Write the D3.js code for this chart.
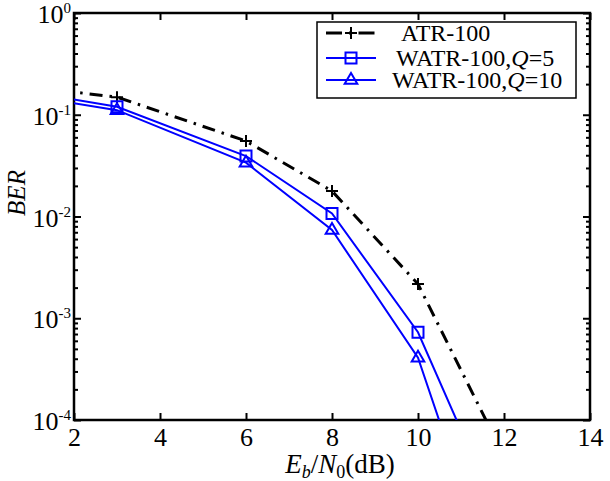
<!DOCTYPE html>
<html>
<head>
<meta charset="utf-8">
<script src="https://d3js.org/d3.v7.min.js"></script>
<style>
  body { margin: 0; background: #fff; }
  svg, svg text { font-family: "Liberation Serif", "Times New Roman", Times, serif; }
</style>
</head>
<body>
<script>
"use strict";

// Eb/N0 (dB) of each simulated point; the first one sits left of the visible range
const ebn0 = [1, 3, 6, 8, 10, 12];
const atr100 = [0.187, 0.149, 0.0552, 0.0178, 0.00217, 4.4e-5];
const watrQ5 = [0.167, 0.120, 0.0393, 0.0107, 7.28e-4, 8.7e-6];
const watrQ10 = [0.151, 0.111, 0.0338, 0.00737, 4.09e-4, 1.3e-6];

const xTicks = [2, 4, 6, 8, 10, 12, 14];
const yExponents = [0, -1, -2, -3, -4];

const seriesNames = ["ATR-100", "WATR-100,Q=5", "WATR-100,Q=10"];

(function() {
    const size = { width: 610, height: 481 };
    const plot = { left: 74, right: 590, top: 13, bottom: 420 };
    const serif = "'Liberation Serif', 'Times New Roman', Times, serif";

    const svg = d3.select("body").append("svg")
        .attr("width", size.width)
        .attr("height", size.height)
        .style("font-family", serif);

    const x = d3.scaleLinear()
        .domain([2, 14])
        .range([plot.left, plot.right]);

    const y = d3.scaleLog()
        .domain([1e-4, 1])
        .range([plot.bottom, plot.top]);

    const series = [
        { name: seriesNames[0], values: atr100, color: "#000", width: 3, dash: "13,7,2.5,7", marker: "plus" },
        { name: seriesNames[1], values: watrQ5, color: "#0000ff", width: 2, dash: null, marker: "square" },
        { name: seriesNames[2], values: watrQ10, color: "#0000ff", width: 2, dash: null, marker: "triangle" }
    ];

    svg.append("clipPath").attr("id", "clip")
        .append("rect")
        .attr("x", plot.left).attr("y", plot.top)
        .attr("width", plot.right - plot.left)
        .attr("height", plot.bottom - plot.top);

    drawAxes();
    drawSeries();
    drawLabels();
    drawLegend();

    function markerPath(type, cx, cy) {
        if (type === "plus") {
            const r = 6;
            return `M${cx - r},${cy}H${cx + r}M${cx},${cy - r}V${cy + r}`;
        }
        if (type === "square") {
            const r = 5.5;
            return `M${cx - r},${cy - r}H${cx + r}V${cy + r}H${cx - r}Z`;
        }
        const r = 7;
        return `M${cx},${cy - r}L${cx + r * 0.9},${cy + r * 0.55}H${cx - r * 0.9}Z`;
    }

    function drawAxes() {
        const frame = svg.append("g");

        // bottom and top axes, ticks pointing into the plot
        const xAxis = frame.append("g")
            .attr("transform", `translate(0,${plot.bottom})`)
            .call(d3.axisBottom(x).tickValues(xTicks).tickSize(-7).tickPadding(8).tickFormat(d3.format("d")));
        const xTop = frame.append("g")
            .attr("transform", `translate(0,${plot.top})`)
            .call(d3.axisTop(x).tickValues(xTicks).tickSize(-7).tickFormat(""));

        // log axes with minor ticks on left and right
        const allTicks = y.ticks();
        const isMajor = d => Math.abs(Math.log10(d) - Math.round(Math.log10(d))) < 1e-9;

        const yLeft = frame.append("g")
            .attr("transform", `translate(${plot.left},0)`)
            .call(d3.axisLeft(y).tickValues(allTicks).tickSize(-7).tickFormat(""));
        const yRight = frame.append("g")
            .attr("transform", `translate(${plot.right},0)`)
            .call(d3.axisRight(y).tickValues(allTicks).tickSize(-7).tickFormat(""));

        yLeft.selectAll(".tick line").attr("x2", d => isMajor(d) ? 7 : 4);
        yRight.selectAll(".tick line").attr("x2", d => isMajor(d) ? -7 : -4);

        [xAxis, xTop, yLeft, yRight].forEach(g => {
            g.attr("font-family", null).attr("font-size", null);
            g.select(".domain").remove();
            g.selectAll(".tick line").attr("stroke", "#000").attr("stroke-width", 2);
        });

        xAxis.selectAll(".tick text")
            .attr("fill", "#000")
            .style("font-size", "26px")
            .style("font-family", serif);

        frame.append("rect")
            .attr("x", plot.left).attr("y", plot.top)
            .attr("width", plot.right - plot.left)
            .attr("height", plot.bottom - plot.top)
            .attr("fill", "none")
            .attr("stroke", "#000")
            .attr("stroke-width", 2.5);

        // 10^k labels
        const labels = frame.selectAll(".ylab")
            .data(yExponents)
            .enter()
            .append("text")
            .attr("class", "ylab")
            .attr("x", plot.left - 3)
            .attr("y", d => y(Math.pow(10, d)) + 10)
            .attr("text-anchor", "end")
            .style("font-size", "26px");
        labels.append("tspan").text("10");
        labels.append("tspan")
            .attr("dy", -10)
            .style("font-size", "15px")
            .text(d => d === 0 ? "0" : "-" + Math.abs(d));
    }

    function drawSeries() {
        const g = svg.append("g").attr("clip-path", "url(#clip)");

        const line = d3.line()
            .x((d, i) => x(ebn0[i]))
            .y(d => y(d));

        series.forEach(s => {
            g.append("path")
                .datum(s.values)
                .attr("d", line)
                .attr("fill", "none")
                .attr("stroke", s.color)
                .attr("stroke-width", s.width)
                .attr("stroke-dasharray", s.dash);

            g.selectAll(null)
                .data(s.values)
                .enter()
                .append("path")
                .attr("d", (d, i) => markerPath(s.marker, x(ebn0[i]), y(d)))
                .attr("fill", "none")
                .attr("stroke", s.color)
                .attr("stroke-width", 2);
        });
    }

    function drawLabels() {
        const xl = svg.append("text")
            .attr("x", 340)
            .attr("y", 473)
            .attr("text-anchor", "middle")
            .style("font-size", "27px");
        xl.append("tspan").style("font-style", "italic").text("E");
        xl.append("tspan").style("font-style", "italic").style("font-size", "18px").attr("dy", 5).text("b");
        xl.append("tspan").attr("dy", -5).text("/");
        xl.append("tspan").style("font-style", "italic").text("N");
        xl.append("tspan").style("font-size", "18px").attr("dy", 5).text("0");
        xl.append("tspan").attr("dy", -5).text("(dB)");

        svg.append("text")
            .attr("transform", "translate(25,193)rotate(-90)")
            .attr("text-anchor", "middle")
            .style("font-size", "25px")
            .style("font-style", "italic")
            .text("BER");
    }

    function drawLegend() {
        const box = { x: 317, y: 22, w: 259, h: 76 };
        const rowY = [33, 58, 80];

        const g = svg.append("g");
        g.append("rect")
            .attr("x", box.x).attr("y", box.y)
            .attr("width", box.w).attr("height", box.h)
            .attr("fill", "#fff")
            .attr("stroke", "#000")
            .attr("stroke-width", 1.5);

        const rows = g.selectAll(".row")
            .data(series)
            .enter()
            .append("g")
            .attr("transform", (d, i) => `translate(${box.x},${rowY[i]})`);

        rows.append("line")
            .attr("x1", 9).attr("x2", 59)
            .attr("stroke", d => d.color)
            .attr("stroke-width", d => d.width)
            .attr("stroke-dasharray", d => d.dash ? "16,7,2.5,7" : null);

        rows.append("path")
            .attr("d", d => markerPath(d.marker, 34, 0))
            .attr("fill", "none")
            .attr("stroke", d => d.color)
            .attr("stroke-width", 2);

        const text = rows.append("text")
            .attr("x", (d, i) => [84, 79, 75][i])
            .attr("y", 8)
            .style("font-size", "24px");
        text.each(function(d) {
            const t = d3.select(this);
            const parts = d.name.split("Q");
            t.append("tspan").text(parts[0]);
            if (parts.length > 1) {
                t.append("tspan").style("font-style", "italic").text("Q");
                t.append("tspan").text(parts[1]);
            }
        });
    }
})();
</script>
</body>
</html>
